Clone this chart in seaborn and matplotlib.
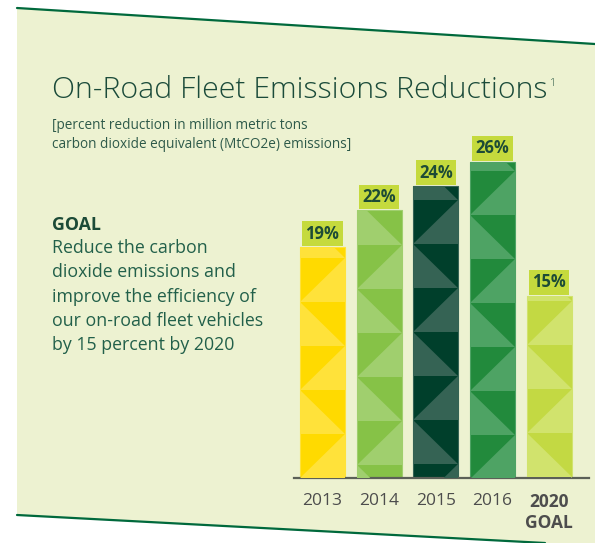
import matplotlib.pyplot as plt
import matplotlib.patches as mpatches
import pandas as pd
import seaborn as sns

# data
years = ["2013", "2014", "2015", "2016", "2020\nGOAL"]
reduction = [19, 22, 24, 26, 15]
value_labels = ["19%", "22%", "24%", "26%", "15%"]

# bar styling
base_colors = ["#FFDA00", "#86C247", "#003F2B", "#228A3C", "#C3D943"]
light_colors = ["#FFE23A", "#A0CF6E", "#356354", "#4EA364", "#D1E36D"]
pattern_offset = [11, 35, 14, 9, 5]  # px from bar top down to first triangle row

goal_lines = ["Reduce the carbon", "dioxide emissions and", "improve the efficiency of",
              "our on-road fleet vehicles", "by 15 percent by 2020"]

sns.set_style("white")
plt.rcParams["font.family"] = ["Open Sans", "DejaVu Sans"]

W, H = 595, 543
fig = plt.figure(figsize=(W / 100, H / 100), dpi=100)
fig.patch.set_facecolor("white")


def fx(px):
    return px / W


def fy(py):
    return 1 - py / H


# slanted light green panel
bg = mpatches.Polygon([(fx(17), fy(8)), (fx(595), fy(44)), (fx(595), fy(543)),
                       (fx(543), fy(543)), (fx(17), fy(515))],
                      closed=True, transform=fig.transFigure,
                      facecolor="#EDF2D1", edgecolor="none", zorder=-2)
fig.patches.append(bg)
for (xa, ya), (xb, yb) in [((17, 8), (595, 44)), ((17, 515), (545, 543))]:
    fig.add_artist(plt.Line2D([fx(xa), fx(xb)], [fy(ya), fy(yb)],
                              transform=fig.transFigure, color="#00693C", lw=1.6, zorder=-1))

# titles / text
fig.text(fx(52), fy(98), "On-Road Fleet Emissions Reductions", fontsize=21.8,
         fontweight="light", color="#1B4B3A", va="baseline")
fig.text(fx(550), fy(86), "1", fontsize=7.5, fontweight="light", color="#1B4B3A", va="baseline")
fig.text(fx(52), fy(129), "[percent reduction in million metric tons", fontsize=9.8,
         color="#2E5A4A", va="baseline")
fig.text(fx(52), fy(148), "carbon dioxide equivalent (MtCO2e) emissions]", fontsize=9.8,
         color="#2E5A4A", va="baseline")
fig.text(fx(52), fy(230), "GOAL", fontsize=12.8, fontweight="bold", color="#1C4B37", va="baseline")
for i, line in enumerate(goal_lines):
    fig.text(fx(52), fy(253 + 24.3 * i), line, fontsize=12.8, color="#22604A", va="baseline")

# chart
ax = fig.add_axes([fx(294), (H - 478) / H, 295 / W, 365 / H])
ax.set_facecolor("none")
df = pd.DataFrame({"year": years, "reduction": reduction})
sns.barplot(data=df, x="year", y="reduction", hue="year", palette=base_colors,
            legend=False, width=0.79, saturation=1, ax=ax, zorder=2)
ax.set_ylim(0, 30)
ax.set_xlim(-0.5, 4.7)

ppu = 365 / 30  # pixels per unit
period = 44 / ppu
bars = sorted([p for p in ax.patches if p.get_height() > 0], key=lambda p: p.get_x())
for i, bar in enumerate(bars):
    x0 = bar.get_x()
    x1 = x0 + bar.get_width()
    top = bar.get_height()
    bar.set_edgecolor(light_colors[i])
    bar.set_linewidth(0.8)
    b = top - pattern_offset[i] / ppu
    k = -1
    while b - (k + 1) * period > -period:
        yhi = b - k * period
        ylo = yhi - period
        if k % 2 == 0:
            tri = [(x0, ylo), (x1, ylo), (x1, yhi)]
        else:
            tri = [(x0, yhi), (x0, ylo), (x1, ylo)]
        poly = mpatches.Polygon(tri, closed=True, facecolor=light_colors[i],
                                edgecolor="none", zorder=3)
        ax.add_patch(poly)
        poly.set_clip_path(bar)
        k += 1
    ax.annotate(value_labels[i], (x0 + bar.get_width() / 2, top), xytext=(0, 9.5),
                textcoords="offset points", ha="center", va="center", fontsize=12,
                fontweight="bold", color="#1D4B36", zorder=4,
                bbox=dict(boxstyle="square,pad=0.2", fc="#C5DA3D", ec="none"))

sns.despine(ax=ax, left=True)
ax.spines["bottom"].set_color("#5B6057")
ax.spines["bottom"].set_linewidth(1.6)
ax.set_yticks([])
ax.set_xlabel("")
ax.set_ylabel("")
ax.tick_params(axis="x", length=0, pad=10.5, labelsize=12.5, labelcolor="#4D4D4D")
for t in ax.get_xticklabels():
    t.set_linespacing(1.25)
ax.get_xticklabels()[-1].set_fontweight("bold")

fig.savefig("out.png", dpi=100, facecolor="white")
